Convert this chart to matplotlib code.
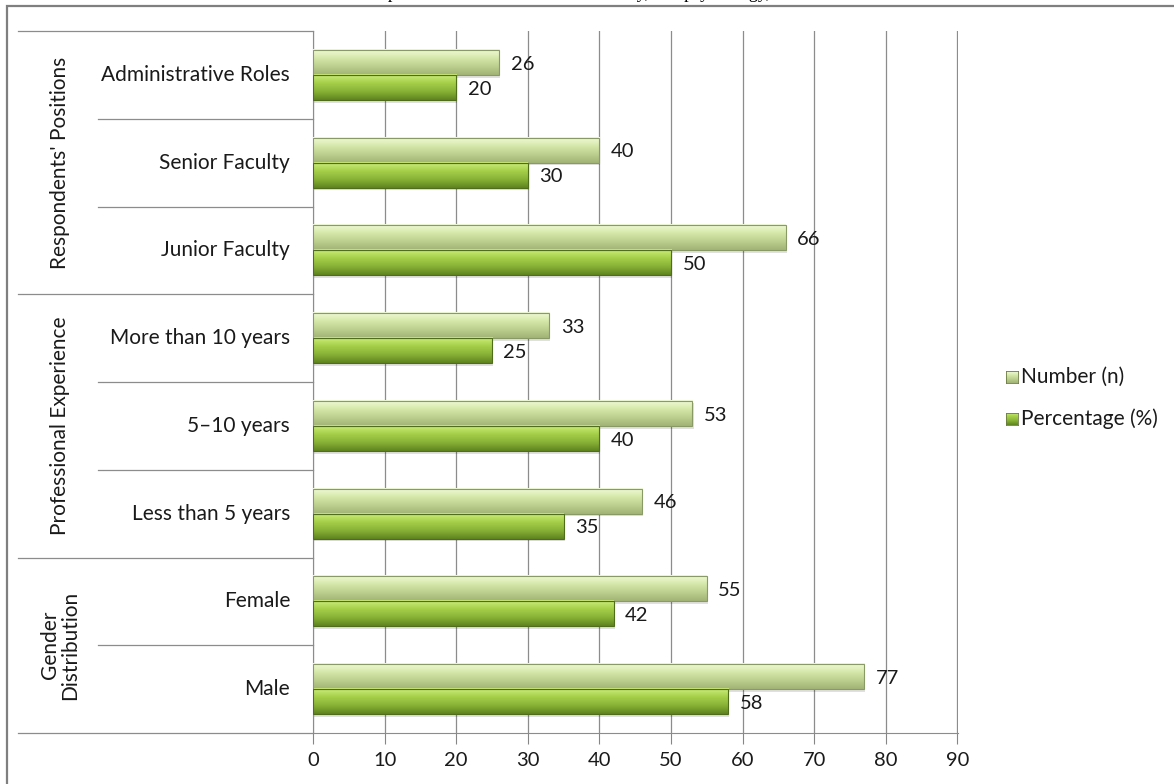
import matplotlib.pyplot as plt
import numpy as np
from matplotlib.patches import Rectangle
from matplotlib.colors import LinearSegmentedColormap

# categories bottom -> top
categories = ['Male', 'Female', 'Less than 5 years', '5\u201310 years',
              'More than 10 years', 'Junior Faculty', 'Senior Faculty',
              'Administrative Roles']
number_n = [77, 55, 46, 53, 33, 66, 40, 26]
percent = [58, 42, 35, 40, 25, 50, 30, 20]
groups = ['Gender\nDistribution', 'Professional Experience', "Respondents' Positions"]
group_spans = [(0, 2), (2, 5), (5, 8)]
xticks = list(range(0, 100, 10))

plt.rcParams['font.family'] = ['Lato', 'DejaVu Sans']
fig = plt.figure(figsize=(11.74, 7.84), dpi=100)
W, H = 1174, 784
ax = fig.add_axes([313 / W, 1 - 733 / H, (958 - 313) / W, (733 - 31) / H])

# outer frame
fig.patches.append(Rectangle((7 / W, -0.05), 1.1, 1 - 6 / H + 0.05, transform=fig.transFigure,
                             fill=False, edgecolor='#7f7f7f', lw=1.6, zorder=0))

# title, cut off by the top edge as in the source image
fig.text(230 / W, 1 + 1.5 / H, "Characteristics of Respondents in Medicine and Dentistry, and psychology, and",
         family='Liberation Serif', fontsize=13, va='baseline', ha='left')

h = 0.285
y = np.arange(len(categories))

light_cmap = LinearSegmentedColormap.from_list('l', ['#f0fad8', '#d6e9aa', '#bccf8e', '#a2b476'])
dark_cmap = LinearSegmentedColormap.from_list('d', ['#cdef7a', '#a6d04a', '#88b236', '#5f8420'])
grad = np.linspace(0, 1, 64).reshape(-1, 1)


def draw_bars(vals, offset, cmap, edge):
    for yi, v in zip(y, vals):
        y0 = yi + offset
        # shadow
        ax.add_patch(Rectangle((0.15, y0 - 0.03), v, h, facecolor='#000000', alpha=0.12, lw=0, zorder=2))
        ax.imshow(grad, cmap=cmap, aspect='auto', extent=(0, v, y0, y0 + h),
                  origin='upper', zorder=3, interpolation='bilinear')
        ax.add_patch(Rectangle((0, y0), v, h, fill=False, edgecolor=edge, lw=0.8, zorder=4))
        ax.text(v + 1.6, y0 + h / 2 - 0.02, str(v), va='center', ha='left', fontsize=14.5,
                color='#1a1a1a', zorder=5)


draw_bars(number_n, 0, light_cmap, '#8a9a66')
draw_bars(percent, -h, dark_cmap, '#4f6d1a')

ax.set_xlim(0, 90.08)
ax.set_ylim(-0.5, len(categories) - 0.5)
ax.set_xticks(xticks)
ax.set_xticklabels([str(t) for t in xticks], fontsize=14.5, color='#1a1a1a')
ax.tick_params(axis='x', length=8, color='#868686', pad=6)
ax.set_yticks([])
ax.grid(axis='x', color='#8c8c8c', lw=0.9, zorder=1)
ax.set_axisbelow(True)
for s in ['top', 'right']:
    ax.spines[s].set_visible(False)
ax.spines['bottom'].set_color('#8c8c8c')
ax.spines['left'].set_color('#8c8c8c')

tr = ax.get_yaxis_transform()
x_outer = (18 - 313) / 645
x_inner = (98 - 313) / 645
for yi, c in zip(y, categories):
    ax.text(-23 / 645, yi, c, transform=tr, ha='right', va='center', fontsize=15, color='#1a1a1a')
for g, (a, b) in zip(groups, group_spans):
    ax.plot([x_outer, 0], [a - 0.5, a - 0.5], transform=tr, color='#8c8c8c', lw=0.9, clip_on=False)
    for k in range(a + 1, b):
        ax.plot([x_inner, 0], [k - 0.5, k - 0.5], transform=tr, color='#8c8c8c', lw=0.9, clip_on=False)
    ax.text((60 - 313) / 645, (a + b - 1) / 2, g, transform=tr, rotation=90, ha='center', va='center',
            fontsize=15, color='#1a1a1a', linespacing=1.05)
ax.plot([x_outer, 0], [7.5, 7.5], transform=tr, color='#8c8c8c', lw=0.9, clip_on=False)

# legend
for ly, lab, cm in [(377, 'Number (n)', light_cmap), (419, 'Percentage (%)', dark_cmap)]:
    lax = fig.add_axes([1006 / W, 1 - (ly + 6) / H, 12 / W, 12 / H])
    lax.imshow(grad, cmap=cm, aspect='auto', extent=(0, 1, 0, 1), origin='upper')
    lax.set_xticks([]); lax.set_yticks([])
    for s in lax.spines.values():
        s.set_color('#6a7a40'); s.set_linewidth(0.6)
    fig.text(1021 / W, 1 - ly / H, lab, fontsize=15, va='center', ha='left', color='#1a1a1a')

fig.savefig('out.png', dpi=100)
